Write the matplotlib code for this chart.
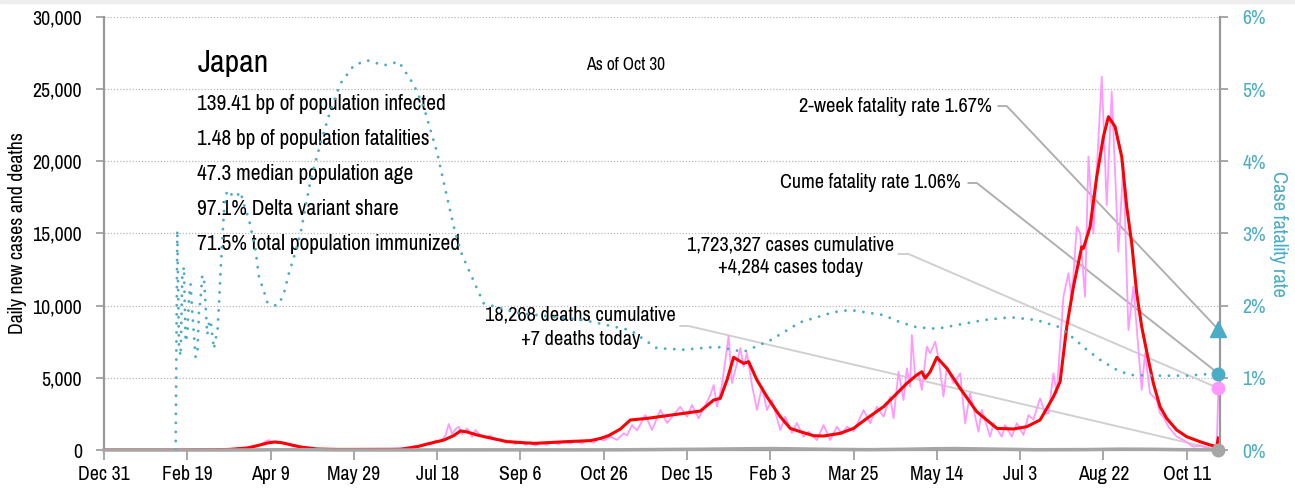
import numpy as np
import pandas as pd
import matplotlib
matplotlib.use('Agg')
import matplotlib.pyplot as plt
from matplotlib import font_manager
from matplotlib.patches import Rectangle
from matplotlib.ticker import FuncFormatter, MultipleLocator

# pick a narrow sans if one is installed
names = {f.name for f in font_manager.fontManager.ttflist}
family = 'DejaVu Sans'
for cand in ['Pragati Narrow', 'Barlow Condensed', 'PT Sans Narrow', 'Roboto Condensed']:
    if cand in names:
        family = cand
        break
plt.rcParams['font.family'] = [family, 'DejaVu Sans']

PINK = '#ff99ff'
RED = '#ff0000'
TEAL = '#4bacc6'
GRAY = '#a6a6a6'

start = pd.Timestamp('2019-12-31')

# daily new cases (days since Dec 31 2019)
raw_day = [0, 15, 30, 45, 55, 60, 66, 70, 75, 80, 85, 88, 91, 94, 97, 99, 101, 103, 106, 108,
           111, 114, 117, 121, 125, 130, 140, 150, 160, 170, 176, 180, 184, 187, 190, 193, 196, 199,
           202, 205, 207, 209, 211, 213, 215, 218, 221, 223, 226, 229, 232, 235, 238, 241, 244, 247,
           250, 253, 256, 259, 262, 266, 269, 273, 276, 280, 283, 287, 290, 294, 297, 300, 304, 308,
           312, 314, 317, 320, 325, 329, 334, 338, 346, 350, 353, 357, 361, 364, 366, 368, 371, 375,
           377, 380, 382, 384, 386, 389, 392, 395, 398, 401, 406, 409, 413, 416, 420, 423, 428, 432,
           436, 440, 443, 446, 450, 453, 456, 460, 464, 468, 472, 474, 477, 480, 482, 484, 485, 487,
           489, 491, 494, 496, 499, 501, 504, 506, 510, 514, 517, 520, 525, 527, 532, 534, 539, 541,
           545, 548, 552, 555, 558, 562, 565, 567, 570, 572, 576, 579, 581, 584, 586, 589, 591, 594,
           599, 602, 605, 609, 612, 615, 618, 623, 625, 628, 632, 634, 636, 639, 644, 648, 654, 658,
           662, 668, 669]
raw_cases = [0, 0, 2, 10, 20, 25, 40, 40, 50, 90, 150, 200, 250, 380, 580, 690, 480, 620, 440, 500,
             350, 250, 200, 120, 80, 50, 35, 40, 50, 60, 100, 140, 200, 300, 260, 420, 380, 650,
             600, 1000, 1800, 1100, 1450, 1610, 1100, 1500, 900, 1385, 1000, 850, 1000, 700, 750, 500, 650, 400,
             600, 350, 550, 300, 500, 350, 550, 400, 600, 450, 650, 450, 700, 500, 800, 650, 920, 700,
             1155, 1000, 1730, 1350, 2420, 1385, 2770, 1870, 3000, 2310, 3120, 2200, 3100, 3810, 4500, 3000, 4500, 7900,
             4640, 6000, 7070, 5770, 6720, 4500, 2770, 4390, 2770, 3460, 1385, 2310, 1180, 1870, 920, 1270, 690, 1730,
             690, 1615, 1100, 1615, 1300, 2000, 2770, 1850, 3000, 2310, 3690, 2190, 5420, 3460, 5660, 4390, 7970, 5080,
             5310, 4160, 7160, 6700, 7500, 6350, 3690, 5770, 4620, 5310, 1850, 3930, 1270, 2770, 920, 1850, 920, 1730,
             920, 1850, 1040, 2420, 2100, 3580, 2540, 2540, 5310, 3930, 10620, 12240, 10390, 15470, 15010, 10620, 20320, 15010,
             25860, 16970, 24820, 13740, 19860, 8310, 11310, 4160, 6700, 3930, 3460, 2540, 2300, 1615, 920, 690, 230, 300,
             140, 120, 4284]

# 7-day average of new cases
avg_day = [0, 40, 60, 75, 86, 92, 98, 102, 106, 110, 118, 128, 140, 160, 178, 188, 194, 204, 210,
           214, 218, 224, 230, 242, 258, 278, 292, 298, 303, 310, 316, 326, 348, 358, 366, 370, 374,
           378, 384, 387, 392, 398, 406, 412, 418, 426, 432, 442, 450, 458, 468, 474, 482, 488, 491,
           493, 496, 500, 506, 514, 524, 536, 546, 554, 562, 570, 574, 578, 582, 587, 588, 592, 596,
           600, 603, 607, 611, 614, 617, 620, 623, 627, 630, 634, 638, 644, 650, 658, 664, 668, 669]
avg_cases = [0, 0, 15, 40, 140, 300, 480, 550, 520, 420, 210, 70, 40, 45, 50, 230, 415, 690, 1000,
             1320, 1250, 1040, 880, 580, 460, 580, 650, 800, 1000, 1450, 2080, 2190, 2540, 2700, 3460, 3580, 4850,
             6420, 6000, 6120, 4850, 3690, 2310, 1500, 1270, 990, 970, 1155, 1500, 2190, 3000, 3690, 4620, 5200, 5420,
             4970, 5420, 6420, 5660, 4270, 2650, 1500, 1455, 1615, 2080, 3690, 4730, 8540, 11310, 14080, 13970, 15470, 18930,
             21700, 23090, 22400, 20320, 16850, 14320, 10860, 8540, 6240, 4620, 3000, 2190, 1385, 920, 575, 350, 230, 830]

# daily deaths
death_day = [0, 60, 90, 100, 110, 125, 140, 180, 220, 240, 280, 310, 340, 360, 380, 400, 420, 440,
             460, 480, 500, 510, 530, 560, 590, 610, 630, 650, 668, 669]
deaths = [0, 0, 5, 15, 25, 20, 5, 2, 10, 12, 8, 15, 40, 55, 80, 100, 70, 40,
          25, 50, 90, 100, 70, 20, 30, 60, 50, 20, 8, 7]

# cumulative case fatality rate, percent
cfr_day = [43, 44, 45, 46, 47, 48, 49, 50, 51, 52, 53, 54, 55, 56, 57, 58, 59, 60, 61, 62, 63, 64,
           65, 66, 67, 68, 69, 70, 71, 72, 73, 74, 76, 79, 82, 84, 87, 91, 93, 96, 98, 102, 105, 108,
           111, 114, 118, 124, 130, 136, 142, 150, 158, 168, 177, 186, 192, 200, 206, 211, 215, 228,
           248, 288, 316, 332, 348, 368, 384, 400, 418, 438, 448, 468, 478, 488, 500, 528, 544, 560,
           574, 582, 590, 598, 608, 616, 630, 650, 662, 669]
cfr = [0, 3.05, 1.45, 1.3, 2.4, 2.54, 1.5, 1.6, 2.1, 2.3, 1.9, 1.6, 1.29, 1.3, 1.9, 2.1, 2.42, 2.4, 2.0, 1.6, 1.75, 1.8,
       1.6, 1.4, 1.55, 1.6, 2.0, 2.5, 2.9, 3.3, 3.5, 3.6, 3.55, 3.5, 3.58, 3.4, 3.2, 2.77, 2.4, 2.2, 2.05, 2.0, 2.02, 2.17,
       2.45, 2.67, 3.0, 3.74, 4.25, 4.71, 5.08, 5.33, 5.4, 5.33, 5.38, 5.06, 4.75, 4.12, 3.5, 3.0, 2.7, 2.03,
       1.9, 1.8, 1.66, 1.41, 1.39, 1.43, 1.36, 1.52, 1.77, 1.91, 1.94, 1.87, 1.77, 1.7, 1.68, 1.8, 1.84, 1.8,
       1.7, 1.55, 1.39, 1.25, 1.11, 1.04, 1.03, 1.03, 1.05, 1.06]

country = 'Japan'
stats = ['139.41 bp of population infected',
         '1.48 bp of population fatalities',
         '47.3 median population age',
         '97.1% Delta variant share',
         '71.5% total population immunized']
as_of = 'As of Oct 30'
cfr_2wk = 1.67
cfr_cume = 1.06
cum_cases = 1723327
cum_deaths = 18268
tick_step = 50

fig = plt.figure(figsize=(12.95, 4.88), dpi=100)
fig.patches.append(Rectangle((0, 1 - 3 / 488), 1, 3 / 488, transform=fig.transFigure,
                             color='#eeeeee', zorder=0))
ax = fig.add_axes([104 / 1295, 38 / 488, 1116 / 1295, 433 / 488])
ax2 = ax.twinx()

ax.plot(raw_day, raw_cases, color=PINK, lw=1.3, zorder=3)
ax.plot(avg_day, avg_cases, color=RED, lw=2.2, zorder=4)
ax.plot(death_day, deaths, color=GRAY, lw=2.5, zorder=5, clip_on=False)
ax2.plot(cfr_day, cfr, color=TEAL, lw=2.1, linestyle=(0, (0.001, 3.1)),
         dash_capstyle='round', zorder=3)

last = raw_day[-1]
ax2.plot(last, cfr_2wk, '^', color=TEAL, ms=11, clip_on=False, zorder=6)
ax2.plot(last, cfr_cume, 'o', color=TEAL, ms=9, clip_on=False, zorder=6)
ax2.plot(last, raw_cases[-1] / 5000, 'o', color=PINK, ms=9, clip_on=False, zorder=6)
ax2.plot(last, deaths[-1] / 5000, 'o', color=GRAY, ms=9, clip_on=False, zorder=6)

ax.set_xlim(0, 670)
ax.set_ylim(0, 30000)
ax2.set_ylim(0, 6)

ticks = np.arange(0, 670, tick_step)
ax.set_xticks(ticks)
ax.set_xticklabels([f'{d:%b} {d.day}' for d in (start + pd.to_timedelta(ticks, unit='D'))])
ax.yaxis.set_major_locator(MultipleLocator(5000))
ax.yaxis.set_major_formatter(FuncFormatter(lambda v, p: f'{v:,.0f}'))
ax2.yaxis.set_major_locator(MultipleLocator(1))
ax2.yaxis.set_major_formatter(FuncFormatter(lambda v, p: f'{v:.0f}%'))

ax.yaxis.grid(True, linestyle=(0, (1, 1.5)), color='#b8b8b8', lw=0.9)
ax.set_axisbelow(True)

for a in (ax, ax2):
    a.spines['top'].set_visible(False)
ax.spines['right'].set_visible(False)
ax2.spines['left'].set_visible(False)
ax2.spines['bottom'].set_visible(False)
for s in ('left', 'bottom'):
    ax.spines[s].set_color('#999999')
    ax.spines[s].set_linewidth(1.6)
ax2.spines['right'].set_color('#999999')
ax2.spines['right'].set_linewidth(1.6)

ax.tick_params(axis='y', length=6, width=1.2, color='#999999', labelsize=15.5, pad=10)
ax.tick_params(axis='x', length=7, width=1.2, color='#999999', labelsize=15.5, pad=4)
ax2.tick_params(axis='y', length=6, width=1.2, color='#999999', labelsize=15.5, pad=10,
                labelcolor=TEAL)

ax.set_ylabel('Daily new cases and deaths', fontsize=15.5, labelpad=4)
ax2.set_ylabel('Case fatality rate', fontsize=16, color=TEAL, rotation=270, labelpad=16)

# country block
ax.text(56, 26180, country, fontsize=25, va='baseline')
for i, s in enumerate(stats):
    ax.text(56, 23555 - i * 2430, s, fontsize=16.7, va='baseline')
ax.text(313, 26650, as_of, fontsize=13.7, ha='center', va='center')

# fatality rate call-outs
ax.text(533, 23830, f'2-week fatality rate {cfr_2wk:.2f}%', fontsize=16, ha='right', va='center')
ax.plot([537, 542, last], [23830, 23830, cfr_2wk * 5000], color='#b0b0b0', lw=1.4, zorder=2,
        clip_on=False)
ax.text(514, 18500, f'Cume fatality rate {cfr_cume:.2f}%', fontsize=15.7, ha='right', va='center')
ax.plot([519, 524, last], [18500, 18500, cfr_cume * 5000], color='#b0b0b0', lw=1.4, zorder=2,
        clip_on=False)

# cumulative totals
ax.text(412, 13856, f'{cum_cases:,} cases cumulative', fontsize=16, ha='center', va='baseline')
ax.text(412, 12263, f'+{raw_cases[-1]:,} cases today', fontsize=16, ha='center', va='baseline')
ax.plot([477, 483, last], [13580, 13580, raw_cases[-1]], color='#d0d0d0', lw=1.4, zorder=2,
        clip_on=False)
ax.text(286, 9006, f'{cum_deaths:,} deaths cumulative', fontsize=16, ha='center', va='baseline')
ax.text(286, 7274, f'+{deaths[-1]:,} deaths today', fontsize=16, ha='center', va='baseline')
ax.plot([346, 351, last], [8590, 8590, deaths[-1]], color='#d0d0d0', lw=1.4, zorder=2,
        clip_on=False)

fig.savefig('out.png', dpi=100)
